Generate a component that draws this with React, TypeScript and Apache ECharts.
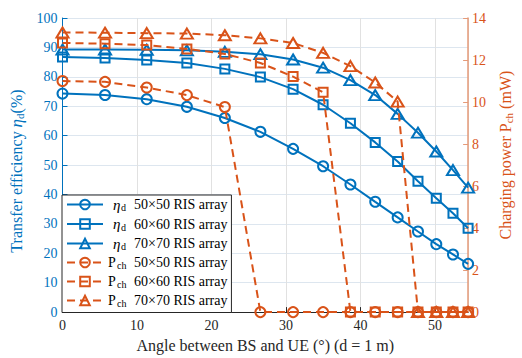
import React, { useEffect, useRef } from "react";
import * as echarts from "echarts";

const angles = [0, 5.71, 11.31, 16.7, 21.8, 26.57, 30.96, 34.99, 38.66, 41.99, 45.0, 47.73, 50.19, 52.43, 54.46];
const eta50 = [74.3, 73.8, 72.4, 69.8, 66.0, 61.3, 55.5, 49.6, 43.4, 37.5, 32.2, 27.4, 23.1, 19.6, 16.4];
const eta60 = [86.7, 86.4, 85.7, 84.7, 82.7, 79.9, 75.8, 70.5, 64.2, 57.7, 51.2, 44.5, 38.7, 33.6, 28.5];
const eta70 = [89.3, 89.3, 89.2, 89.0, 88.5, 87.7, 85.9, 83.1, 78.9, 73.8, 67.4, 61.0, 54.6, 48.3, 42.3];
const p50 = [11.0, 10.96, 10.69, 10.33, 9.76, 0, 0, 0, 0, 0, 0, 0, 0, 0, 0];
const p60 = [12.81, 12.78, 12.71, 12.53, 12.29, 11.86, 11.21, 10.46, 0, 0, 0, 0, 0, 0, 0];
const p70 = [13.31, 13.3, 13.28, 13.26, 13.18, 13.03, 12.81, 12.34, 11.71, 10.93, 10.02, 0, 0, 0, 0];
const arrays = ["50×50 RIS array", "60×60 RIS array", "70×70 RIS array"];
const leftTicks = { min: 0, max: 100, interval: 10 };
const rightTicks = { min: 0, max: 14, interval: 2 };

const BLUE = "#0072BD";
const ORANGE = "#D95319";
const FONT = "Liberation Serif";

function pairs(ys: number[]) {
  return ys.map((y, i) => [angles[i], y]);
}

export default function App() {
  const ref = useRef<HTMLDivElement>(null);
  useEffect(() => {
    if (!ref.current) return;
    const chart = echarts.init(ref.current, undefined, { renderer: "svg" });
    const symbols = ["circle", "rect", "triangle"];
    const symSizes: any[] = [10, 9, [12, 10]];
    const etaSets = [eta50, eta60, eta70];
    const pSets = [p50, p60, p70];
    const series: any[] = [];
    etaSets.forEach((d, i) => {
      series.push({
        name: "eta" + i,
        type: "line",
        yAxisIndex: 0,
        data: pairs(d),
        symbol: symbols[i],
        symbolSize: symSizes[i],
        showAllSymbol: true,
        lineStyle: { color: BLUE, width: 2 },
        itemStyle: { color: "rgba(0,0,0,0)", borderColor: BLUE, borderWidth: 2 },
        z: 2,
      });
    });
    pSets.forEach((d, i) => {
      series.push({
        name: "p" + i,
        type: "line",
        yAxisIndex: 1,
        data: pairs(d),
        symbol: symbols[i],
        symbolSize: symSizes[i],
        showAllSymbol: true,
        lineStyle: { color: ORANGE, width: 2, type: [8, 5] },
        itemStyle: { color: "rgba(0,0,0,0)", borderColor: ORANGE, borderWidth: 2 },
        z: 3,
      });
    });
    const richLegend: any = {
      pad: { width: 5, fontSize: 14, lineHeight: 16 },
      e: { fontStyle: "italic", fontSize: 15, width: 8, lineHeight: 16, fontFamily: FONT },
      sd: { fontSize: 10, width: 13, lineHeight: 10, verticalAlign: "bottom", fontFamily: FONT },
      p: { fontSize: 14, width: 9, lineHeight: 16, fontFamily: FONT },
      sc: { fontSize: 10, width: 17, lineHeight: 10, verticalAlign: "bottom", fontFamily: FONT },
      t: { fontSize: 14, lineHeight: 16, fontFamily: FONT, color: "#000" },
    };
    const option: any = {
      animation: false,
      backgroundColor: "#fff",
      textStyle: { fontFamily: FONT },
      grid: { left: 62, right: 48, top: 18, bottom: 42, containLabel: false },
      legend: {
        orient: "vertical",
        left: 62,
        top: 195,
        padding: [2, 4, 4, 4],
        itemWidth: 36,
        itemHeight: 12,
        itemGap: 4,
        backgroundColor: "#fff",
        borderColor: "#262626",
        borderWidth: 1,
        borderRadius: 0,
        data: ["eta0", "eta1", "eta2", "p0", "p1", "p2"],
        formatter: (name: string) => {
          const i = Number(name.slice(-1));
          if (name.startsWith("eta")) return `{pad|}{e|η}{sd|d}{t|${arrays[i]}}`;
          return `{p|P}{sc|ch}{t|${arrays[i]}}`;
        },
        textStyle: { fontFamily: FONT, fontSize: 14, color: "#000", rich: richLegend },
      },
      xAxis: {
        type: "value",
        min: 0,
        max: 54.46,
        interval: 10,
        name: "Angle between BS and UE (°) (d = 1 m)",
        nameLocation: "middle",
        nameGap: 23,
        nameTextStyle: { fontFamily: FONT, fontSize: 16, color: "#262626" },
        axisLine: { show: true, lineStyle: { color: "#262626", width: 1 } },
        axisTick: { show: true, inside: true, length: 5, lineStyle: { color: "#262626" } },
        axisLabel: { fontFamily: FONT, fontSize: 14, color: "#262626", margin: 6, showMaxLabel: false },
        splitLine: { show: true, lineStyle: { color: "#e1e1e1", width: 1 } },
      },
      yAxis: [
        {
          type: "value",
          position: "left",
          ...leftTicks,
          name: "{a|Transfer efficiency }{e|η}{s|d}{a|(%)}",
          nameLocation: "middle",
          nameGap: 37,
          nameRotate: 90,
          nameTextStyle: {
            color: BLUE,
            padding: [0, 12, 0, 0],
            rich: {
              a: { fontFamily: FONT, fontSize: 16, color: BLUE, lineHeight: 18 },
              e: { fontFamily: FONT, fontSize: 17, fontStyle: "italic", color: BLUE, lineHeight: 18 },
              s: { fontFamily: FONT, fontSize: 11, color: BLUE, lineHeight: 11, verticalAlign: "bottom" },
            },
          },
          axisLine: { show: true, lineStyle: { color: BLUE, width: 1 } },
          axisTick: { show: true, inside: true, length: 5, lineStyle: { color: BLUE } },
          axisLabel: { fontFamily: FONT, fontSize: 14, color: BLUE, margin: 5 },
          splitLine: { show: true, lineStyle: { color: "#dde6ef", width: 1 } },
        },
        {
          type: "value",
          position: "right",
          ...rightTicks,
          name: "{a|Charging power P}{s|ch}{a| (mW)}",
          nameLocation: "middle",
          nameGap: 27,
          nameRotate: 90,
          nameTextStyle: {
            color: ORANGE,
            padding: [0, 0, 0, 20],
            rich: {
              a: { fontFamily: FONT, fontSize: 16, color: ORANGE, lineHeight: 18 },
              s: { fontFamily: FONT, fontSize: 11, color: ORANGE, lineHeight: 11, verticalAlign: "bottom" },
            },
          },
          axisLine: { show: true, lineStyle: { color: "#e59a78", width: 1.5 } },
          axisTick: { show: true, inside: true, length: 5, lineStyle: { color: "#e59a78" } },
          axisLabel: { fontFamily: FONT, fontSize: 14, color: ORANGE, margin: 4 },
          splitLine: { show: false },
        },
      ],
      series,
    };
    chart.setOption(option);
    return () => chart.dispose();
  }, []);
  return (
    <div
      ref={ref}
      style={{ position: "fixed", left: 0, top: 0, width: 522, height: 358, background: "#fff" }}
    />
  );
}
